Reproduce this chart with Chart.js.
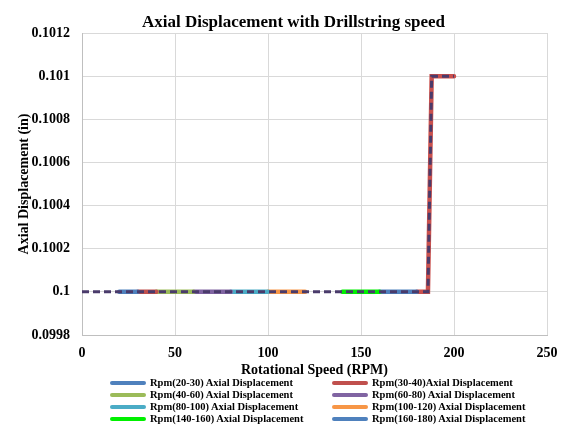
<!DOCTYPE html>
<html>
<head>
<meta charset="utf-8">
<script src="https://cdn.jsdelivr.net/npm/chart.js@4.4.1/dist/chart.umd.min.js"></script>
<style>
  html, body { margin: 0; padding: 0; background: #fff; }
  #wrap { position: relative; width: 576px; height: 440px; }
  #legend { position: absolute; left: 0; top: 0; width: 576px; height: 440px; pointer-events: none;
            font-family: "Liberation Serif", "Times New Roman", serif; font-weight: bold; font-size: 10.5px; color: #000; }
  .item { position: absolute; white-space: nowrap; line-height: 12px; }
  .swatch { position: absolute; height: 4px; border-radius: 2px; }
</style>
</head>
<body>
<div id="wrap">
  <canvas id="c" width="576" height="440"></canvas>
  <div id="legend"></div>
</div>
<script>
// ---- data ----
const chartTitle = 'Axial Displacement with Drillstring speed';
const seriesNames = [
  'Rpm(20-30) Axial Displacement',
  'Rpm(30-40)Axial Displacement',
  'Rpm(40-60) Axial Displacement',
  'Rpm(60-80) Axial Displacement',
  'Rpm(80-100) Axial Displacement',
  'Rpm(100-120) Axial Displacement',
  'Rpm(140-160) Axial Displacement',
  'Rpm(160-180) Axial Displacement'
];
const seriesColors = ['#4F81BD', '#C0504D', '#9BBB59', '#8064A2', '#4BACC6', '#F79646', '#00F000', '#4F81BD'];

const rpm20_30 = [20, 30];    const disp20_30 = [0.1, 0.1];
const rpm30_40 = [30, 40];    const disp30_40 = [0.1, 0.1];
const rpm40_60 = [40, 60];    const disp40_60 = [0.1, 0.1];
const rpm60_80 = [60, 80];    const disp60_80 = [0.1, 0.1];
const rpm80_100 = [80, 100];  const disp80_100 = [0.1, 0.1];
const rpm100_120 = [100, 120]; const disp100_120 = [0.1, 0.1];
const rpm140_160 = [140, 160]; const disp140_160 = [0.1, 0.1];
const rpm160_180 = [160, 180]; const disp160_180 = [0.1, 0.1];
const rpm180_200 = [180, 186, 188, 200]; const disp180_200 = [0.1, 0.1, 0.101, 0.101];
const rpmAll = [0, 186, 188, 200];       const dispAll = [0.1, 0.1, 0.101, 0.101];

const xTicks = [0, 50, 100, 150, 200, 250];
const yTickLabels = ['0.0998', '0.1', '0.1002', '0.1004', '0.1006', '0.1008', '0.101', '0.1012'];

// ---- build ----
const seriesX = [rpm20_30, rpm30_40, rpm40_60, rpm60_80, rpm80_100, rpm100_120, rpm140_160, rpm160_180];
const seriesY = [disp20_30, disp30_40, disp40_60, disp60_80, disp80_100, disp100_120, disp140_160, disp160_180];
const pts = (xs, ys) => xs.map((x, i) => ({ x: x, y: ys[i] }));

const datasets = seriesNames.map((n, i) => ({
  label: n, data: pts(seriesX[i], seriesY[i]), borderColor: seriesColors[i],
  borderWidth: 4.5, pointRadius: 0, showLine: true, order: 2, borderCapStyle: 'round'
}));
datasets.push({ label: 'Rpm(180-200) Axial Displacement', data: pts(rpm180_200, disp180_200),
  borderColor: '#C9504D', borderWidth: 4.5, pointRadius: 0, showLine: true, order: 2, borderCapStyle: 'round' });
datasets.push({ label: 'Axial Displacement', data: pts(rpmAll, dispAll),
  borderColor: '#4A3B6B', borderWidth: 3, borderDash: [7, 4], pointRadius: 0, showLine: true, order: 0 });

const yVals = yTickLabels.map(parseFloat);
const FONT = '"Liberation Serif", "Times New Roman", serif';

const titlePlugin = {
  id: 'offsetTitle',
  afterDraw(chart) {
    const ctx = chart.ctx;
    ctx.save();
    ctx.font = 'bold 17px ' + FONT;
    ctx.fillStyle = '#000';
    ctx.textAlign = 'center';
    ctx.textBaseline = 'alphabetic';
    ctx.fillText(chartTitle, 293.5, 26.5);
    ctx.restore();
  }
};

new Chart(document.getElementById('c'), {
  type: 'scatter',
  data: { datasets: datasets },
  plugins: [titlePlugin],
  options: {
    responsive: false, animation: false,
    layout: { padding: { left: 16, right: 29, top: 33, bottom: 61.5 } },
    plugins: {
      legend: { display: false },
      tooltip: { enabled: false },
      title: { display: false }
    },
    scales: {
      x: {
        type: 'linear', min: 0, max: 250,
        afterBuildTicks: s => { s.ticks = xTicks.map(v => ({ value: v })); },
        afterFit: s => { s.height = 43.5; },
        ticks: { color: '#000', font: { family: FONT, size: 14, weight: 'bold' }, padding: 10, maxRotation: 0 },
        grid: { color: '#D9D9D9', drawTicks: false },
        border: { color: '#BFBFBF' },
        title: { display: true, text: 'Rotational Speed (RPM)', color: '#000',
          font: { family: FONT, size: 14, weight: 'bold' }, padding: { top: 0, bottom: 0 } }
      },
      y: {
        min: 0.0998, max: 0.1012,
        afterBuildTicks: s => { s.ticks = yVals.map(v => ({ value: v })); },
        afterFit: s => { s.width = 66; },
        ticks: { color: '#000', font: { family: FONT, size: 14, weight: 'bold' }, padding: 12,
          callback: (v, i) => yTickLabels[i] },
        grid: { color: '#D9D9D9', drawTicks: false },
        border: { color: '#BFBFBF' },
        title: { display: true, text: 'Axial Displacement (in)', color: '#000',
          font: { family: FONT, size: 14, weight: 'bold' }, padding: { top: 0, bottom: 0 } }
      }
    }
  }
});

// ---- HTML legend (two columns) ----
const leg = document.getElementById('legend');
const rowsY = [383, 395, 407, 419];
seriesNames.forEach((n, i) => {
  const col = i % 2, row = Math.floor(i / 2);
  const lineX = col === 0 ? 110 : 332;
  const sw = document.createElement('div');
  sw.className = 'swatch';
  sw.style.left = lineX + 'px'; sw.style.top = (rowsY[row] - 2) + 'px'; sw.style.width = '36px';
  sw.style.background = seriesColors[i];
  leg.appendChild(sw);
  const t = document.createElement('div');
  t.className = 'item';
  t.textContent = n;
  t.style.left = (lineX + 40) + 'px'; t.style.top = (rowsY[row] - 6) + 'px';
  leg.appendChild(t);
});
</script>
</body>
</html>
